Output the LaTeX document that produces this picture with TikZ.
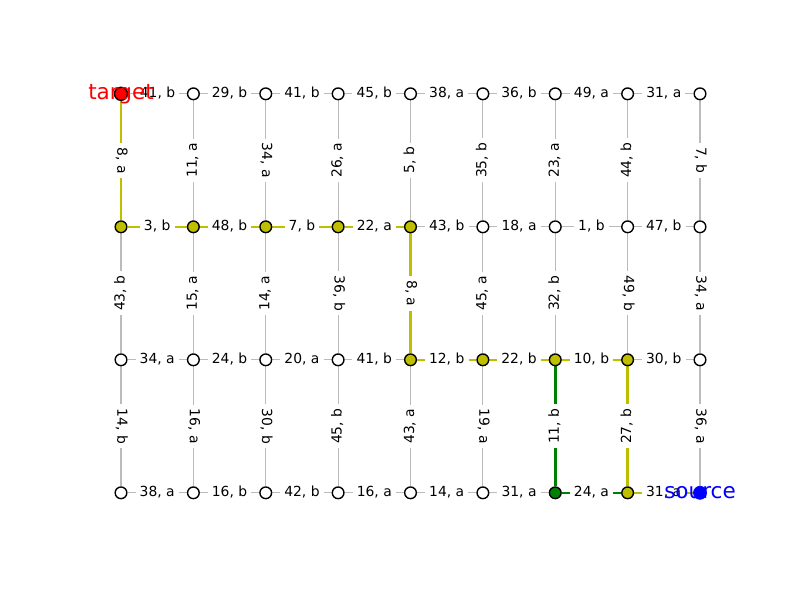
\documentclass[tikz,border=0pt]{standalone}
\usepackage{fontspec}
\setmainfont{DejaVu Sans}
\definecolor{myel}{rgb}{0.75,0.75,0}
\definecolor{mgrn}{rgb}{0,0.5,0}
\definecolor{lgry}{RGB}{187,187,187}
\pgfdeclarelayer{bg}
\pgfdeclarelayer{edges}
\pgfsetlayers{bg,edges,main}
\tikzset{
  vbase/.style={circle,draw=black,line width=1pt,minimum size=8.4pt,inner sep=0pt},
  v-w/.style={vbase,fill=white},
  v-y/.style={vbase,fill=myel},
  v-g/.style={vbase,fill=mgrn},
  v-tg/.style={vbase,fill=red,minimum size=9.4pt},
  v-src/.style={circle,fill=blue,draw=blue,line width=0.5pt,minimum size=9.4pt,inner sep=0pt},
  egr/.style={draw=lgry,line width=0.8pt},
  eye/.style={draw=myel,line width=1.8pt},
  egn/.style={draw=mgrn,line width=1.8pt},
  elab/.style={fill=white,inner sep=3pt,text height=0.76em,text depth=0.24em,font=\fontsize{10}{12}\selectfont,text=black},
  rotu/.style={rotate=90},
  rotd/.style={rotate=-90},
  bigtxt/.style={font=\fontsize{15.5}{18}\selectfont,anchor=base,inner sep=0pt}
}
\begin{document}
\begin{tikzpicture}[x=0.72pt,y=-0.72pt]
\begin{pgfonlayer}{bg}
\fill[white] (0,0) rectangle (800,600);
\end{pgfonlayer}
\useasboundingbox (0,0) rectangle (800,600);
% vertices
\foreach \r/\sl in {0/{tg,w,w,w,w,w,w,w,w},
                    1/{y,y,y,y,y,w,w,w,w},
                    2/{w,w,w,w,y,y,y,y,w},
                    3/{w,w,w,w,w,w,g,y,src}} {
  \foreach \s [count=\ci from 0] in \sl {
    \node[v-\s] (n\ci-\r) at ({121+72.375*\ci},{93.8+133*\r}) {};
  }
}
% horizontal edges
\begin{pgfonlayer}{edges}
\foreach \r/\el in {0/{41/b/gr,29/b/gr,41/b/gr,45/b/gr,38/a/gr,36/b/gr,49/a/gr,31/a/gr},
                    1/{3/b/ye,48/b/ye,7/b/ye,22/a/ye,43/b/gr,18/a/gr,1/b/gr,47/b/gr},
                    2/{34/a/gr,24/b/gr,20/a/gr,41/b/gr,12/b/ye,22/b/ye,10/b/ye,30/b/gr},
                    3/{38/a/gr,16/b/gr,42/b/gr,16/a/gr,14/a/gr,31/a/gr,24/a/gn,31/a/ye}} {
  \foreach \n/\l/\s [count=\ci from 0] in \el {
    \pgfmathtruncatemacro\cj{\ci+1}
    \draw[e\s] (n\ci-\r) -- node[elab] {\n, \l} (n\cj-\r);
  }
}
% vertical edges
\foreach \r/\el in {0/{8/a/ye/d,11/a/gr/u,34/a/gr/d,26/a/gr/u,5/b/gr/u,35/b/gr/u,23/a/gr/u,44/b/gr/u,7/b/gr/d},
                    1/{43/b/gr/u,15/a/gr/u,14/a/gr/u,36/b/gr/d,8/a/ye/d,45/a/gr/u,32/b/gr/u,49/b/gr/d,34/a/gr/d},
                    2/{14/b/gr/d,16/a/gr/d,30/b/gr/d,45/b/gr/u,43/a/gr/u,19/a/gr/d,11/b/gn/u,27/b/ye/u,36/a/gr/d}} {
  \foreach \n/\l/\s/\o [count=\ci from 0] in \el {
    \pgfmathtruncatemacro\rj{\r+1}
    \draw[e\s] (n\ci-\r) -- node[elab,rot\o] {\n, \l} (n\ci-\rj);
  }
}
\end{pgfonlayer}
% labels of target and source
\node[bigtxt,text=red,yshift=-4pt] (ttxt) at (n0-0) {target};
\node[bigtxt,text=blue,yshift=-4pt] (stxt) at (n8-3) {source};
\end{tikzpicture}
\end{document}
